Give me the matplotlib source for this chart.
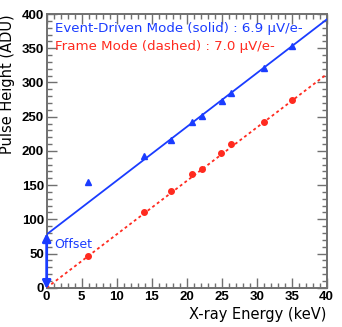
import matplotlib
matplotlib.use("Agg")
import matplotlib.pyplot as plt
from matplotlib.ticker import MultipleLocator
import numpy as np

ed_energy = [5.95, 13.95, 17.75, 20.8, 22.2, 25.0, 26.3, 31.1, 35.1]
ed_height = [154, 192, 216, 242, 251, 273, 285, 321, 354]
fm_energy = [5.95, 13.95, 17.75, 20.8, 22.2, 24.95, 26.3, 31.0, 35.1]
fm_height = [46.8, 111, 141.8, 165.8, 173.5, 196.9, 210, 242.7, 274]

# linear fits shown as lines
ed_fit = (78.0, 7.85)   # offset, slope
fm_fit = (0.0, 7.8)
offset = 78.0

ed_label = "Event-Driven Mode (solid) : 6.9 \u03bcV/e-"
fm_label = "Frame Mode (dashed) : 7.0 \u03bcV/e-"

blue = "#1a3cff"
red = "#ff2a1f"
frame = "#707070"

plt.rcParams['font.family'] = ['DejaVu Sans']

fig = plt.figure(figsize=(3.42, 3.27), dpi=100)
ax = fig.add_axes([0.1365, 0.12, 0.8185, 0.837])

xs = np.array([0, 40])
ax.plot(xs, ed_fit[0] + ed_fit[1] * xs, color=blue, lw=1.3, zorder=3)
ax.plot(xs, fm_fit[0] + fm_fit[1] * xs, color=red, lw=1.3, dashes=(1.6, 1.6), zorder=3)
ax.plot(ed_energy, ed_height, linestyle="none", marker="^", ms=4, color=blue, zorder=4)
ax.plot(fm_energy, fm_height, linestyle="none", marker="o", ms=4, color=red, zorder=4)

ax.annotate("", xy=(0, offset + 2), xytext=(0, -2),
            arrowprops=dict(arrowstyle="<|-|>", color=blue, lw=2.0,
                            mutation_scale=12, shrinkA=0, shrinkB=0),
            annotation_clip=False, zorder=5)
ax.text(1.05, 57.6, "Offset", color=blue, fontsize=9)

ax.text(1.2, 374, ed_label, color=blue, fontsize=9.6)
ax.text(1.2, 347.5, fm_label, color=red, fontsize=9.6)

ax.set_xlim(0, 40)
ax.set_ylim(0, 400)
ax.xaxis.set_major_locator(MultipleLocator(5))
ax.xaxis.set_minor_locator(MultipleLocator(1))
ax.yaxis.set_major_locator(MultipleLocator(50))
ax.yaxis.set_minor_locator(MultipleLocator(10))
ax.tick_params(which="both", direction="in", top=True, right=True, color=frame,
               width=1.0, labelsize=9.5, pad=2)
ax.tick_params(which="major", length=7)
ax.tick_params(which="minor", length=3.5)
for lab in ax.get_xticklabels() + ax.get_yticklabels():
    lab.set_fontweight("bold")
    lab.set_family(['Liberation Sans'])
for sp in ax.spines.values():
    sp.set_color(frame)
    sp.set_linewidth(1.4)

ax.set_xlabel("X-ray Energy (keV)", fontsize=10.5, loc="right", labelpad=3)
ax.set_ylabel("Pulse Height (ADU)", fontsize=10.5, loc="top", labelpad=5)

fig.savefig("out.png", dpi=100)
